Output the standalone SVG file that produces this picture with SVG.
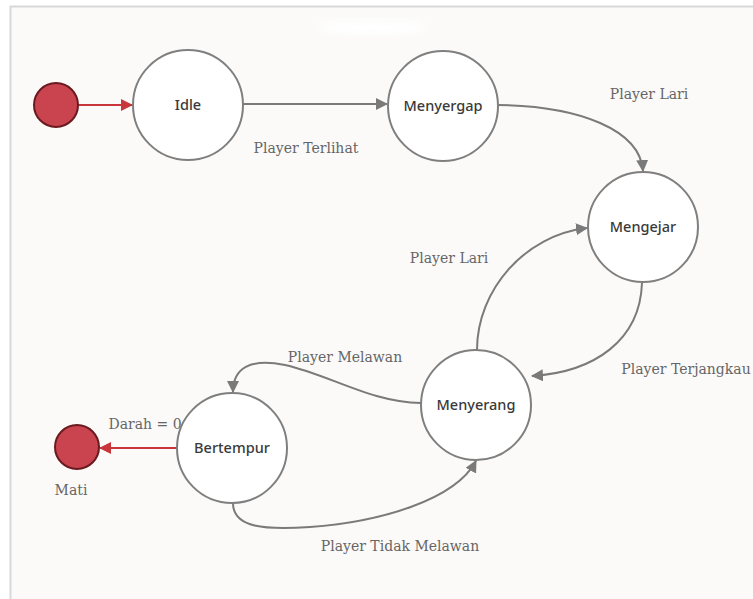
<svg xmlns="http://www.w3.org/2000/svg" width="753" height="599" viewBox="0 0 753 599">
<style>
.st{fill:#fff;stroke:#7f7f7f;stroke-width:2}
.term{fill:#c9444f;stroke:#6a1a1f;stroke-width:2}
.nl{font-family:"Noto Sans","Open Sans",sans-serif;font-size:14.5px;font-weight:500;fill:#3a3a3a;text-anchor:middle}
.el{font-family:"DejaVu Serif","Noto Serif",serif;font-size:14px;fill:#666;text-anchor:middle}
.e{fill:none;stroke:#7a7a7a;stroke-width:2}
.r{fill:none;stroke:#c8353b;stroke-width:2}
</style>
<defs>
<marker id="ag" markerWidth="12" markerHeight="12" refX="11" refY="6" orient="auto" markerUnits="userSpaceOnUse">
<path d="M0,0 L12,6 L0,12 Z" fill="#7a7a7a"/>
</marker>
<marker id="ar" markerWidth="12" markerHeight="12" refX="11" refY="6" orient="auto" markerUnits="userSpaceOnUse">
<path d="M0,0 L12,6 L0,12 Z" fill="#c8353b"/>
</marker>
<filter id="blur"><feGaussianBlur stdDeviation="5"/></filter>
</defs>
<rect x="0" y="0" width="753" height="599" fill="#fff"/>
<rect x="10" y="6" width="743" height="593" fill="#fbfaf9"/>
<line x1="10.5" y1="6" x2="10.5" y2="599" stroke="#d8d8d8" stroke-width="2"/>
<line x1="10" y1="6.5" x2="753" y2="6.5" stroke="#d8d8d8" stroke-width="2"/>
<ellipse cx="372" cy="27" rx="55" ry="8" fill="#fff" filter="url(#blur)"/>
<g id="connectors">
<line class="r" x1="78" y1="105" x2="132" y2="105" marker-end="url(#ar)"/>
<line class="e" x1="243" y1="104" x2="387" y2="104" marker-end="url(#ag)"/>
<path class="e" d="M498,105 C580,106 640,130 643,171" marker-end="url(#ag)"/>
<path class="e" d="M642,283 C640,340 595,372 532,376" marker-end="url(#ag)"/>
<path class="e" d="M477,350 C477,290 525,235 587,228" marker-end="url(#ag)"/>
<path class="e" d="M421,403 C370,402 330,375 285,365 C250,358 233,368 233,392" marker-end="url(#ag)"/>
<path class="e" d="M233,503 C233,528 265,530 310,527 C380,522 455,500 476,461" marker-end="url(#ag)"/>
<line class="r" x1="177" y1="448" x2="100" y2="448" marker-end="url(#ar)"/>
<text class="el" x="306" y="153">Player Terlihat</text>
<text class="el" x="649" y="99">Player Lari</text>
<text class="el" x="686" y="374">Player Terjangkau</text>
<text class="el" x="449" y="263">Player Lari</text>
<text class="el" x="345" y="362">Player Melawan</text>
<text class="el" x="400" y="551">Player Tidak Melawan</text>
<text class="el" x="145" y="429">Darah = 0</text>
<text class="el" x="71" y="495">Mati</text>
</g>
<g id="start"><circle class="term" cx="56" cy="105" r="22"/></g>
<g id="idle"><circle class="st" cx="188" cy="105" r="55"/><text class="nl" x="188" y="110">Idle</text></g>
<g id="menyergap"><circle class="st" cx="443" cy="106" r="55"/><text class="nl" x="443" y="111">Menyergap</text></g>
<g id="mengejar"><circle class="st" cx="643" cy="227" r="55"/><text class="nl" x="643" y="232">Mengejar</text></g>
<g id="menyerang"><circle class="st" cx="476" cy="405" r="55"/><text class="nl" x="476" y="410">Menyerang</text></g>
<g id="bertempur"><circle class="st" cx="232" cy="448" r="55"/><text class="nl" x="232" y="453">Bertempur</text></g>
<g id="mati"><circle class="term" cx="77" cy="447" r="22"/></g>
</svg>
